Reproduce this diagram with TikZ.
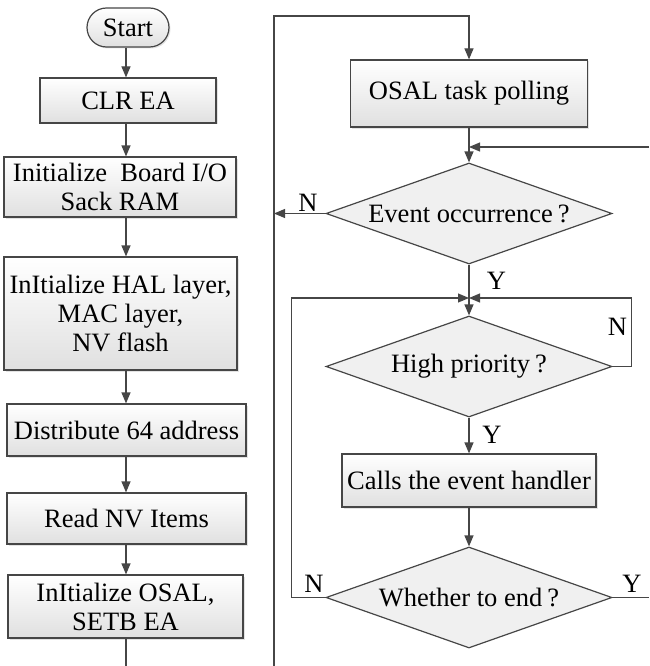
\documentclass[tikz,border=0pt]{standalone}
\usepackage{fontspec}
\setmainfont{Liberation Serif}
\usetikzlibrary{arrows.meta, shapes.geometric, shapes.misc, shadows}
\definecolor{linecolor}{RGB}{70,70,70}
\definecolor{boxbottom}{RGB}{224,224,224}
\definecolor{diamondfill}{RGB}{240,240,240}

\begin{document}
\begin{tikzpicture}[
      % GLOBAL CFG
      x=1pt, y=-1pt,
      font=\fontsize{26.5}{29}\selectfont,
      >={Triangle[length=11pt,width=9pt]},
      line width=1.2pt,
      % Styles
      proc/.style={% For processing steps
        rectangle,
        draw=linecolor,
        top color=white,
        bottom color=boxbottom,
        drop shadow={shadow xshift=1.5pt, shadow yshift=-1.5pt, fill=black!22},
        align=center,
        inner sep=0pt
      },
      term/.style={% For the start
        rounded rectangle,
        draw=linecolor,
        top color=white,
        bottom color=boxbottom,
        drop shadow={shadow xshift=1.5pt, shadow yshift=-1.5pt, fill=black!22},
        minimum width=82pt,
        minimum height=39pt,
        inner sep=0pt
      },
      decision/.style={% For the questions
        diamond,
        draw=linecolor,
        fill=diamondfill,
        aspect=2.83,
        minimum width=286pt,
        minimum height=101pt,
        inner sep=0pt
      },
      lbl/.style={% For Y and N
        inner sep=0pt
      },
      arrowfunction/.style={% Arrows between steps
        draw=linecolor,
        ->,
      },
      lineplain/.style={% Lines with no tip
        draw=linecolor
      }
      ]

      \useasboundingbox (0,0) rectangle (649,666);

      % Start drawing the thing...
      % Left column: initialisation
      \coordinate (col) at (126,0);
      \node [term] (start) at (128,27.5) {Start};
      \node [proc, minimum width=176pt, minimum height=45pt] (clr) at (128,100.5) {CLR EA};
      \node [proc, minimum width=232pt, minimum height=60pt] (board) at (120,187) {Initialize~ Board I/O\\Sack RAM};
      \node [proc, minimum width=233pt, minimum height=113pt] (hal) at (120.5,313.5) {InItialize HAL layer,\\MAC layer,\\NV flash};
      \node [proc, minimum width=239pt, minimum height=52pt] (dist) at (126.5,430) {Distribute 64 address};
      \node [proc, minimum width=239pt, minimum height=51pt] (read) at (126.5,518.5) {Read NV Items};
      \node [proc, minimum width=235pt, minimum height=63pt] (osalinit) at (125.5,606.5) {InItialize OSAL,\\SETB EA};
      \coordinate (leftend) at (126,666);

      \draw [arrowfunction] (col |- start.south) -- (col |- clr.north);
      \draw [arrowfunction] (col |- clr.south) -- (col |- board.north);
      \draw [arrowfunction] (col |- board.south) -- (col |- hal.north);
      \draw [arrowfunction] (col |- hal.south) -- (col |- dist.north);
      \draw [arrowfunction] (col |- dist.south) -- (col |- read.north);
      \draw [arrowfunction] (col |- read.south) -- (col |- osalinit.north);
      \draw [lineplain] (col |- osalinit.south) -- (leftend);

      % Right column: the OSAL loop
      \node [proc, minimum width=237pt, minimum height=67pt] (poll) at (469,93.5) {OSAL task polling};
      \node [decision] (event) at (469,213.5) {Event occurrence\kern5pt?};
      \node [decision] (high) at (469,366.5) {High priority\kern5pt?};
      \node [proc, minimum width=254pt, minimum height=53pt] (calls) at (469,480.5) {Calls the event handler};
      \node [decision] (whether) at (469,597.5) {Whether to end\kern5pt?};

      \coordinate (loopbot) at (274,666);
      \coordinate (looptop) at (274,16);
      \coordinate (backin) at (649,147);
      \coordinate (join) at (469,298);
      \coordinate (yout) at (649,597.5);

      \draw [arrowfunction] (loopbot) -- (looptop) -- (looptop -| poll.north) -- (poll.north);
      \draw [arrowfunction] (poll) -- (event);
      \draw [arrowfunction] (backin) -- (backin -| event.north);
      \draw [arrowfunction] (event.west) -- (event.west -| looptop);
      \draw [arrowfunction] (event.south) -- (high.north);
      \draw [arrowfunction] (high.east) -- ++(19,0) |- (join);
      \draw [arrowfunction] (high) -- (calls);
      \draw [arrowfunction] (calls) -- (whether);
      \draw [arrowfunction] (whether.west) -- ++(-34,0) |- (join);
      \draw [lineplain] (whether.east) -- (yout);

      % Y and N
      \node [lbl] (nevent) at (308,203) {N};
      \node [lbl] (yevent) at (496.5,281) {Y};
      \node [lbl] (nhigh) at (617.5,327) {N};
      \node [lbl] (yhigh) at (492,435) {Y};
      \node [lbl] (nwhether) at (314,584) {N};
      \node [lbl] (ywhether) at (632,584) {Y};

    \end{tikzpicture}
\end{document}
